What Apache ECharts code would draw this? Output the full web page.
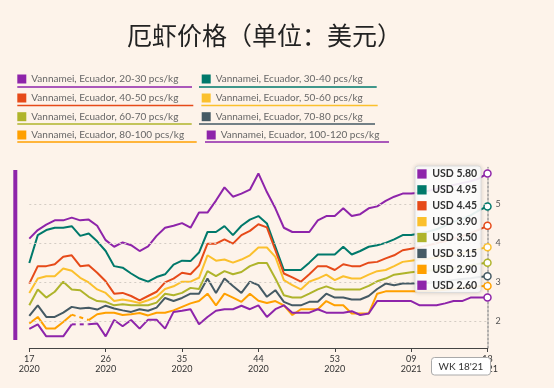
<!DOCTYPE html>
<html><head><meta charset="utf-8">
<script src="https://cdn.jsdelivr.net/npm/echarts@6/dist/echarts.min.js"></script>
<style>html,body{margin:0;padding:0;background:#FDF3EA;}#c{width:554px;height:388px;}</style>
</head><body><div id="c"></div>
<script>
const titleText = '厄虾价格（单位：美元）';
const categories = [
 '2020-17','2020-18','2020-19','2020-20','2020-21','2020-22','2020-23','2020-24','2020-25','2020-26',
 '2020-27','2020-28','2020-29','2020-30','2020-31','2020-32','2020-33','2020-34','2020-35','2020-36',
 '2020-37','2020-38','2020-39','2020-40','2020-41','2020-42','2020-43','2020-44','2020-45','2020-46',
 '2020-47','2020-48','2020-49','2020-50','2020-51','2020-52','2020-53','2021-01','2021-02','2021-03',
 '2021-04','2021-05','2021-06','2021-07','2021-08','2021-09','2021-10','2021-11','2021-12','2021-13',
 '2021-14','2021-15','2021-16','2021-17','2021-18'];
const seriesNames = [
 'Vannamei, Ecuador, 20-30 pcs/kg','Vannamei, Ecuador, 30-40 pcs/kg',
 'Vannamei, Ecuador, 40-50 pcs/kg','Vannamei, Ecuador, 50-60 pcs/kg',
 'Vannamei, Ecuador, 60-70 pcs/kg','Vannamei, Ecuador, 70-80 pcs/kg',
 'Vannamei, Ecuador, 80-100 pcs/kg','Vannamei, Ecuador, 100-120 pcs/kg'];
const seriesColors = ['#8E24AA','#00796B','#E64A19','#FBC02D','#AFB42B','#455A64','#FFA000','#8E24AA'];
const yTicks = [2,3,4,5];

const s20_30 = [4.12,4.34,4.48,4.59,4.59,4.66,4.59,4.61,4.45,4.08,3.91,4.02,3.95,3.80,3.92,4.19,4.40,4.45,4.52,4.40,4.79,4.79,5.10,5.44,5.20,5.28,5.38,5.80,5.32,4.90,4.40,4.29,4.29,4.29,4.59,4.70,4.70,4.90,4.70,4.75,4.90,4.95,5.09,5.20,5.28,5.28,5.30,5.35,5.40,5.45,5.50,5.55,5.60,5.67,5.80];
const s30_40 = [3.49,4.21,4.34,4.40,4.40,4.44,4.19,4.25,4.05,3.80,3.41,3.37,3.22,3.09,3.01,3.13,3.20,3.45,3.55,3.54,3.76,4.29,4.29,4.44,4.21,4.45,4.61,4.70,4.51,3.91,3.31,3.31,3.31,3.50,3.71,3.71,3.71,3.91,3.71,3.80,3.91,3.95,4.01,4.10,4.21,4.21,4.25,4.30,4.36,4.45,4.55,4.62,4.72,4.85,4.95];
const s40_50 = [2.96,3.41,3.41,3.46,3.65,3.69,3.41,3.43,3.24,3.02,2.70,2.72,2.64,2.53,2.64,2.75,2.99,3.09,3.24,3.20,3.43,3.99,3.99,4.10,3.99,4.21,4.32,4.49,4.41,3.82,3.22,3.12,3.01,3.20,3.41,3.41,3.31,3.46,3.41,3.41,3.50,3.52,3.61,3.69,3.82,3.86,3.90,3.95,4.00,4.05,4.12,4.18,4.26,4.35,4.45];
const s50_60 = [2.72,3.09,3.15,3.15,3.35,3.29,3.11,2.99,2.81,2.72,2.51,2.55,2.51,2.46,2.53,2.62,2.82,2.89,3.01,3.01,3.11,3.69,3.55,3.58,3.50,3.58,3.69,3.89,3.89,3.65,3.05,2.92,2.81,3.01,3.09,3.19,3.05,3.15,3.09,3.09,3.19,3.28,3.31,3.41,3.52,3.55,3.58,3.60,3.63,3.66,3.70,3.74,3.79,3.85,3.90];
const s60_70 = [2.40,2.81,2.60,2.75,3.01,2.81,2.79,2.62,2.51,2.49,2.40,2.43,2.40,2.40,2.40,2.47,2.70,2.66,2.72,2.85,2.82,3.28,3.15,3.28,3.20,3.26,3.41,3.49,3.49,3.09,2.66,2.60,2.60,2.70,2.81,2.89,2.81,2.81,2.81,2.81,2.90,3.02,3.09,3.19,3.22,3.25,3.27,3.29,3.31,3.33,3.36,3.39,3.43,3.47,3.50];
const s70_80 = [2.13,2.40,2.10,2.10,2.21,2.36,2.32,2.34,2.29,2.39,2.32,2.27,2.23,2.30,2.26,2.34,2.59,2.51,2.59,2.70,2.70,3.09,2.72,3.09,2.90,2.72,3.01,2.92,2.62,2.79,2.49,2.40,2.40,2.49,2.49,2.70,2.60,2.60,2.55,2.55,2.64,2.82,2.96,2.92,2.96,2.96,2.97,2.98,3.00,3.02,3.05,3.08,3.10,3.13,3.15];
const s80_100 = [1.93,2.10,1.80,1.80,1.97,2.16,null,2.02,2.17,2.21,2.21,2.15,2.17,2.20,2.14,2.21,2.21,2.27,2.36,2.45,2.51,2.70,2.40,2.70,2.60,2.49,2.70,2.52,2.46,2.51,2.40,2.15,2.30,2.30,2.30,2.51,2.40,2.40,2.19,2.19,2.19,2.70,2.76,2.76,2.76,2.76,2.76,2.77,2.78,2.80,2.82,2.85,2.87,2.89,2.90];
const s100_120 = [1.79,1.91,1.60,1.60,1.60,1.91,null,1.91,1.93,1.60,2.02,1.86,2.02,1.80,2.03,2.03,1.80,2.23,2.26,2.30,1.91,2.10,2.26,2.30,2.30,2.39,2.30,2.40,2.10,2.30,2.40,2.21,2.21,2.21,2.30,2.21,2.21,2.21,2.25,2.15,2.19,2.51,2.51,2.51,2.51,2.51,2.40,2.40,2.40,2.45,2.51,2.51,2.60,2.60,2.60];

const allData = [s20_30,s30_40,s40_50,s50_60,s60_70,s70_80,s80_100,s100_120];

const chart = echarts.init(document.getElementById('c'), null, {renderer:'canvas'});
const FONT = 'Lato, "Noto Sans", sans-serif';
const last = categories.length - 1;

const series = [];
allData.forEach((arr, k) => {
  const col = seriesColors[k];
  const data = arr.map((v, i) => i === last ? {
    value: v, symbol: 'circle', symbolSize: 7,
    itemStyle: {color: '#fff', borderColor: col, borderWidth: 1.5}
  } : v);
  const s = {
    name: seriesNames[k], type: 'line', data: data, showSymbol: true, showAllSymbol: true,
    symbol: 'none', connectNulls: false, silent: true, z: 3,
    lineStyle: {color: col, width: 2}, itemStyle: {color: col}
  };
  if (k === 0) {
    s.markLine = {
      silent: true, symbol: 'none', label: {show: false},
      lineStyle: {color: '#d4ccc4', type: [2, 3], width: 1},
      data: yTicks.map(t => ({yAxis: t}))
    };
  }
  series.push(s);
  if (arr.some(v => v === null)) {
    const gap = arr.map((v, i) => (v !== null && (arr[i-1] === null || arr[i+1] === null)) ? v : null);
    series.push({
      name: seriesNames[k] + ' (gap)', type: 'line', data: gap, connectNulls: true,
      showSymbol: false, silent: true, z: 2,
      lineStyle: {color: col, width: 2, type: [4, 4]}
    });
  }
});

const legendPos = [
  [17.3, 74], [201.7, 74],
  [17.3, 93], [201.7, 93],
  [17.3, 111.7], [201.7, 111.7],
  [17.3, 130], [206.7, 130]
];
const legends = seriesNames.map((n, k) => ({
  data: [n], left: legendPos[k][0], top: legendPos[k][1], padding: 0,
  itemWidth: 9, itemHeight: 9, icon: 'rect', selectedMode: false,
  textStyle: {fontSize: 10, color: '#666', fontFamily: FONT}
}));
const underlines = [
  [17.3, 192, 87], [199, 376.7, 87],
  [17.3, 193.3, 105.5], [201.3, 377.7, 105.5],
  [17.3, 191.7, 124], [199, 375, 124],
  [17.3, 196.7, 142], [205, 389, 142]
];

const TOP = 100;
const graphics = [];
underlines.forEach((u, k) => {
  graphics.push({type: 'line', shape: {x1: u[0], y1: u[2], x2: u[1], y2: u[2]},
    style: {stroke: seriesColors[k], lineWidth: 1.5}, silent: true});
});
graphics.push({type: 'rect', shape: {x: 13.3, y: 170, width: 4, height: 170},
  style: {fill: '#8E24AA'}, silent: true});
// value box
const bx = 415, by = 166;
graphics.push({type: 'rect', z: TOP, silent: true,
  shape: {x: bx, y: by, width: 66, height: 126.5, r: 3},
  style: {fill: 'rgba(255,255,255,0.9)', stroke: '#dcdcdc', lineWidth: 1,
    shadowBlur: 4, shadowColor: 'rgba(0,0,0,0.15)'}});
allData.forEach((arr, k) => {
  const cy = by + 8 + k * 15.9;
  graphics.push({type: 'rect', z: TOP + 1, silent: true,
    shape: {x: bx + 2.3, y: cy - 4.7, width: 9.3, height: 9.3},
    style: {fill: seriesColors[k]}});
  graphics.push({type: 'text', z: TOP + 1, silent: true, x: bx + 17.3, y: cy,
    style: {text: 'USD ' + arr[last].toFixed(2), fill: '#333', font: 'bold 10.5px ' + FONT,
      verticalAlign: 'middle'}});
});
// week label box
const lastCat = categories[last].split('-');
graphics.push({type: 'rect', z: TOP, silent: true,
  shape: {x: 431.5, y: 357.5, width: 59, height: 17.5, r: 3},
  style: {fill: '#fff', stroke: '#aaa', lineWidth: 1}});
graphics.push({type: 'text', z: TOP + 1, silent: true, x: 461, y: 366.5,
  style: {text: 'WK ' + lastCat[1] + "'" + lastCat[0].slice(2), fill: '#333', font: '10px ' + FONT,
    align: 'center', verticalAlign: 'middle'}});

chart.setOption({
  animation: false,
  backgroundColor: '#FDF3EA',
  textStyle: {fontFamily: FONT},
  title: {text: titleText, left: 122, top: 18,
    textStyle: {fontSize: 25, fontWeight: 'normal', color: '#222', fontFamily: '"Noto Sans CJK SC", sans-serif'}},
  legend: legends,
  grid: {left: 29.3, right: 66.5, top: 167.6, bottom: 40, containLabel: false},
  xAxis: {
    type: 'category', data: categories, boundaryGap: false,
    axisLine: {lineStyle: {color: '#444', width: 1}},
    axisTick: {show: true, interval: 8, length: 4, lineStyle: {color: '#444'}},
    axisLabel: {interval: 8, margin: 6, fontSize: 9, lineHeight: 10, color: '#333', fontFamily: FONT,
      formatter: v => { const p = v.split('-'); return p[1] + '\n' + p[0]; }},
    splitLine: {show: false}
  },
  yAxis: {
    type: 'value', position: 'right', min: 1.3, max: 5.95,
    axisLine: {show: true, lineStyle: {color: '#999', type: [2, 2], width: 1.5}},
    axisTick: {show: false},
    splitLine: {show: false},
    axisLabel: {margin: 8, fontSize: 9, color: '#555', fontFamily: FONT,
      formatter: v => (Math.abs(v - Math.round(v)) < 1e-9 && v >= 2 && v <= 5) ? String(Math.round(v)) : ''}
  },
  series: series,
  graphic: {elements: graphics}
});
</script></body></html>
